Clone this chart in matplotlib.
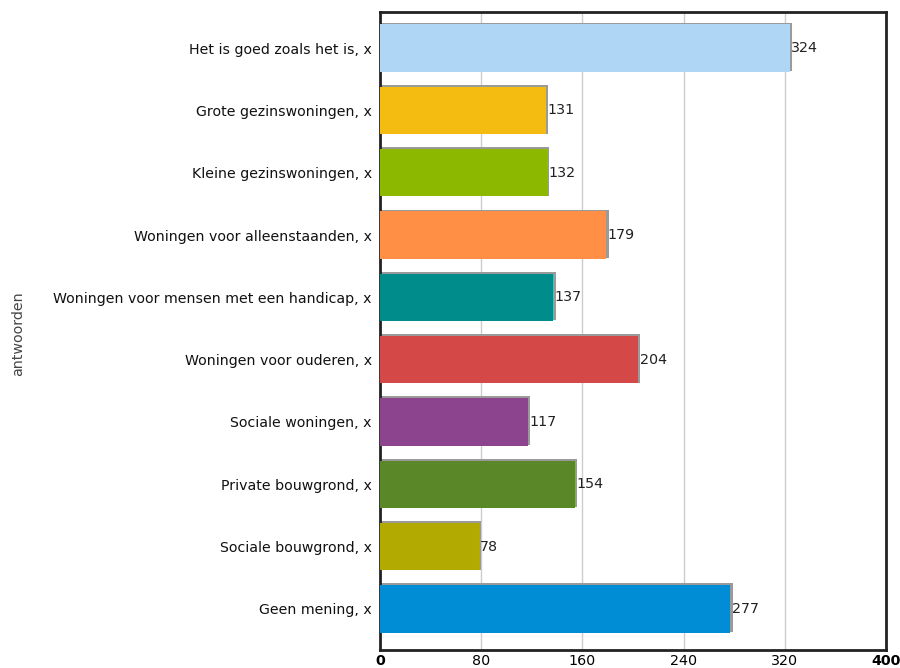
import matplotlib.pyplot as plt
import numpy as np

plt.rcParams['font.family'] = ['DejaVu Sans']

categories = [
    'Het is goed zoals het is, x',
    'Grote gezinswoningen, x',
    'Kleine gezinswoningen, x',
    'Woningen voor alleenstaanden, x',
    'Woningen voor mensen met een handicap, x',
    'Woningen voor ouderen, x',
    'Sociale woningen, x',
    'Private bouwgrond, x',
    'Sociale bouwgrond, x',
    'Geen mening, x',
]
values = [324, 131, 132, 179, 137, 204, 117, 154, 78, 277]
colors = ['#B0D6F5', '#F4BC10', '#8CB800', '#FF8F45', '#008C8A',
          '#D54848', '#8C448F', '#5A8829', '#B2AA00', '#008DD6']
xticks = [0, 80, 160, 240, 320, 400]

fig = plt.figure(figsize=(9, 6.68), dpi=100)
ax = fig.add_axes([0.4222, 0.027, 0.5622, 0.955])

y = np.arange(len(categories))
# grey shadow behind each bar
ax.barh(y - 0.02, [v + 1.8 for v in values], height=0.78, color='#9a9a9a', zorder=2)
ax.barh(y, values, height=0.76, color=colors, zorder=3)

for yi, v in zip(y, values):
    ax.text(v + 1.2, yi, str(v), va='center', ha='left', fontsize=10.3,
            color='#222222', zorder=4)

ax.set_ylim(len(categories) - 1 + 0.66, -0.58)
ax.set_xlim(0, 400)
ax.set_yticks(y)
ax.set_yticklabels(categories, fontsize=10.2, color='#111111')
ax.set_xticks(xticks)
ax.set_xticklabels([str(t) for t in xticks], fontsize=10.3)
for lbl in ax.get_xticklabels():
    if lbl.get_text() in ('0', '400'):
        lbl.set_fontweight('bold')
ax.tick_params(axis='both', length=0)
ax.tick_params(axis='y', pad=6)
ax.tick_params(axis='x', pad=3)

ax.grid(axis='x', color='#cccccc', linewidth=1, zorder=0)
ax.set_axisbelow(True)
for s in ax.spines.values():
    s.set_linewidth(2)
    s.set_color('#222222')

fig.text(0.02, 0.5, 'antwoorden', rotation=90, va='center', ha='center',
         fontsize=10.3, color='#444444')

fig.savefig('out.png', dpi=100)
